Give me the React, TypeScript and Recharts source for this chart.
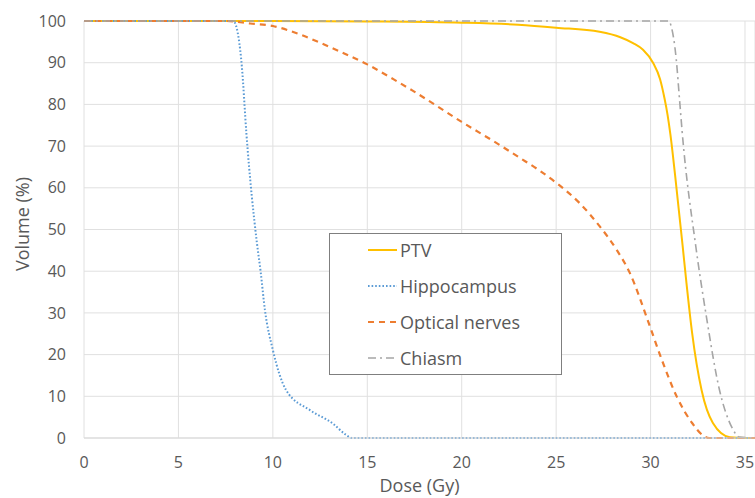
import { LineChart, Line, XAxis, YAxis, CartesianGrid, Legend, Label } from "recharts";

const doseTicks = [0, 5, 10, 15, 20, 25, 30, 35];
const volumeTicks = [0, 10, 20, 30, 40, 50, 60, 70, 80, 90, 100];

const ptvDose = [0, 10, 15, 20, 23, 25, 27.3, 28.4, 29.07, 29.6, 30.13, 30.5, 30.74, 30.9, 31.05, 31.3, 31.7, 31.9, 32.2, 32.7, 33.3, 34.2, 35, 35.53];
const ptvVolume = [100, 100, 99.9, 99.6, 99.1, 98.4, 97.4, 96.1, 94.7, 93.1, 90, 86.1, 81.4, 77.5, 72.8, 63, 46, 37.2, 25.2, 11.5, 3.6, 0.2, 0, 0];

const hippoDose = [0, 7.9, 8.0, 8.36, 8.6, 9.15, 9.35, 9.58, 10.0, 10.7, 11.96, 13.2, 13.8, 14.2, 35.53];
const hippoVolume = [100, 100, 99.5, 89, 73, 47, 40, 30.7, 21.1, 11.5, 6.7, 3.4, 1.0, 0, 0];

const opticDose = [0, 7.5, 8.8, 10, 11.3, 12.5, 13.5, 15, 16.4, 17.4, 20, 22, 23, 24.1, 25.2, 26.25, 27.3, 28.18, 28.9, 29.9, 30.6, 31.4, 32.2, 32.75, 33.1, 35.53];
const opticVolume = [100, 100, 99.4, 98.8, 97, 94.8, 92.8, 89.6, 86, 83.3, 75.8, 70.3, 67.4, 64.2, 60.5, 56.3, 50.8, 45.3, 39.6, 27.6, 18.7, 9.8, 3.6, 0.7, 0, 0];

const chiasmDose = [0, 30.95, 31.1, 31.36, 31.53, 31.67, 32.4, 32.96, 33.65, 34.3, 34.7, 35.53];
const chiasmVolume = [100, 100, 98.6, 90.8, 81.4, 73.6, 45.8, 29, 11.5, 2.6, 0.2, 0];

const toPoints = (d: number[], v: number[]) => d.map((x, i) => ({ dose: x, volume: v[i] }));

const series = [
  { name: "PTV", data: toPoints(ptvDose, ptvVolume), color: "#FFC000", dash: undefined, width: 2 },
  { name: "Hippocampus", data: toPoints(hippoDose, hippoVolume), color: "#5B9BD5", dash: "1.6 2", width: 2 },
  { name: "Optical nerves", data: toPoints(opticDose, opticVolume), color: "#ED7D31", dash: "6 5", width: 2.2 },
  { name: "Chiasm", data: toPoints(chiasmDose, chiasmVolume), color: "#A5A5A5", dash: "8 4 2 4", width: 1.6 },
];

const font = "'Open Sans', sans-serif";
const textColor = "#595959";

function LegendBox() {
  return (
    <div
      style={{
        width: 233,
        height: 142,
        border: "1px solid #7f7f7f",
        background: "#fff",
        fontFamily: font,
        fontSize: 18,
        color: textColor,
        boxSizing: "border-box",
      }}
    >
      <div style={{ marginTop: -2 }}>
        {series.map((s) => (
          <div key={s.name} style={{ display: "flex", alignItems: "center", height: 36, paddingLeft: 38 }}>
            <svg width={30} height={10} style={{ marginRight: 2 }}>
              <line x1={0} y1={5} x2={29} y2={5} stroke={s.color} strokeWidth={s.width} strokeDasharray={s.dash} />
            </svg>
            <span>{s.name}</span>
          </div>
        ))}
      </div>
    </div>
  );
}

export default function App() {
  return (
    <div style={{ position: "absolute", left: 0, top: 0, background: "#fff" }}>
      <LineChart width={755} height={498} margin={{ top: 21, right: 0, bottom: 0, left: 0 }}>
        <CartesianGrid stroke="#e0e0e0" strokeWidth={1} />
        <XAxis
          type="number"
          dataKey="dose"
          domain={[0, 35.53]}
          ticks={doseTicks}
          allowDataOverflow
          height={60}
          tickLine={false}
          axisLine={{ stroke: "#d9d9d9" }}
          tickMargin={13}
          tick={{ fill: textColor, fontSize: 16, fontFamily: font }}
        >
          <Label
            value="Dose (Gy)"
            position="insideBottom"
            offset={6}
            style={{ fill: textColor, fontSize: 18, fontFamily: font }}
          />
        </XAxis>
        <YAxis
          type="number"
          domain={[0, 100]}
          ticks={volumeTicks}
          width={84}
          tickLine={false}
          axisLine={false}
          tickMargin={12}
          tick={{ fill: textColor, fontSize: 16, fontFamily: font }}
        >
          <Label
            content={({ viewBox }: any) => (
              <text
                x={viewBox.x + 22}
                y={224}
                transform={`rotate(-90, ${viewBox.x + 22}, 224)`}
                textAnchor="middle"
                dominantBaseline="central"
                fill={textColor}
                fontSize={18}
                fontFamily={font}
              >
                Volume (%)
              </text>
            )}
          />
        </YAxis>
        <Legend
          layout="vertical"
          align="center"
          verticalAlign="middle"
          content={() => <LegendBox />}
          wrapperStyle={{ left: 329, top: 233, width: 233, height: 142 }}
        />
        {series.map((s) => (
          <Line
            key={s.name}
            data={s.data}
            dataKey="volume"
            name={s.name}
            type="monotone"
            stroke={s.color}
            strokeWidth={s.width}
            strokeDasharray={s.dash}
            dot={false}
            activeDot={false}
            isAnimationActive={false}
          />
        ))}
      </LineChart>
    </div>
  );
}
